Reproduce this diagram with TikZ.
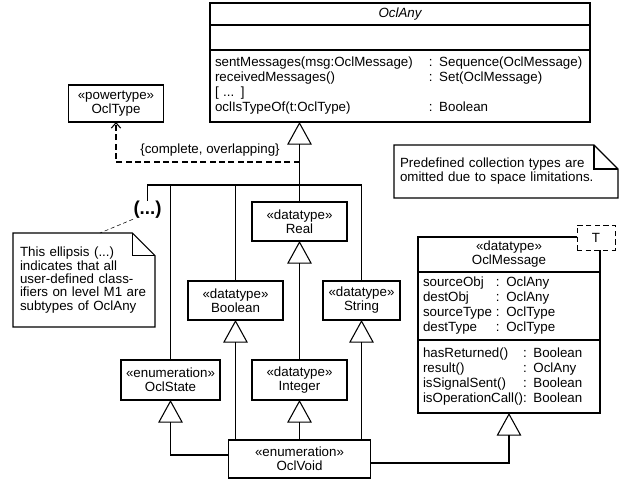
\documentclass[tikz,border=0pt]{standalone}
\usepackage{fontspec}
\setmainfont{Liberation Sans}
\usepackage{tikz}
\usetikzlibrary{positioning}
\usetikzlibrary{arrows.meta}
\newdimen\pix
\pix=0.75pt
\tikzset{%
  block/.style    = {draw, rectangle, fill=white, outer sep=0pt, inner xsep=5\pix,
    inner ysep=2\pix, align=center, font=\fontsize{10}{10.5}\selectfont},
  comp/.style     = {block, align=left, font=\fontsize{10}{11.25}\selectfont}, % Compartment
  tbox/.style     = {draw, dash pattern=on 4pt off 2.5pt, fill=white, thin,
    minimum width=38\pix, minimum height=25\pix}, % Template parameter
  note/.style     = {rectangle, align=left, inner xsep=7\pix, outer sep=0pt}, % Note
  gen/.style      = {-{Triangle[open, length=17pt, width=18.5pt]}}, % Generalization
  dep/.style      = {dash pattern=on 4.5pt off 2.5pt, -{Straight Barb[length=4pt, width=7pt]}},
  link/.style     = {thin, dash pattern=on 3pt off 2pt}
}
\newcommand{\notefold}[2]{%
  \draw (#1.north west) -- ([xshift=-#2]#1.north east) -- ([yshift=-#2]#1.north east)
    -- (#1.south east) -- (#1.south west) -- cycle;
  \draw ([xshift=-#2]#1.north east) |- ([yshift=-#2]#1.north east);
}

\begin{document}
\begin{tikzpicture}[thick, x=0.75pt, y=-0.75pt, font=\fontsize{10}{10.5}\selectfont]
  \useasboundingbox (0,0) rectangle (621,486);

  \draw node at (400,14) [block, minimum width=380\pix, minimum height=22\pix,
    font=\fontsize{10}{10.5}\selectfont\itshape] (any) {OclAny};
  \draw node [block, below=0pt of any, minimum width=380\pix, minimum height=25\pix] (anyattr) {};
  \draw node [comp, below=0pt of anyattr, text width=370\pix, minimum height=72\pix] (anyops)
    {\begin{tabular}{@{}l@{\hspace{12pt}}l@{}}
      sentMessages(msg:OclMessage) & : Sequence(OclMessage)\\
      receivedMessages() & : Set(OclMessage)\\
      {[} ... ] & \\
      oclIsTypeOf(t:OclType) & : Boolean
    \end{tabular}};

  \draw node at (116,103.5) [block, minimum width=95\pix, minimum height=37\pix] (type) {«powertype»\\OclType};
  \draw node at (299.5,221.5) [block, minimum width=95\pix, minimum height=39\pix] (real) {«datatype»\\Real};
  \draw node at (235.5,300.5) [block, minimum width=95\pix, minimum height=39\pix] (bool) {«datatype»\\Boolean};
  \draw node at (361.5,300.5) [block, minimum width=77\pix, minimum height=39\pix] (str) {«datatype»\\String};
  \draw node at (170.5,380) [block, minimum width=95\pix, minimum height=40\pix] (state) {«enumeration»\\OclState};
  \draw node at (299.5,380) [block, minimum width=95\pix, minimum height=40\pix] (integer) {«datatype»\\Integer};
  \draw node at (299.5,459) [block, minimum width=142\pix, minimum height=38\pix] (void) {«enumeration»\\OclVoid};

  \draw node at (509,254.5) [block, minimum width=182\pix, minimum height=35\pix] (msg) {«datatype»\\OclMessage};
  \draw node [comp, below=0pt of msg, text width=172\pix, minimum height=68\pix] (msgattr)
    {\begin{tabular}{@{}l@{\hspace{3pt}}l@{}}
      sourceObj & : OclAny\\
      destObj & : OclAny\\
      sourceType & : OclType\\
      destType & : OclType
    \end{tabular}};
  \draw node [comp, below=0pt of msgattr, text width=172\pix, minimum height=73\pix] (msgops)
    {\begin{tabular}{@{}l@{}l@{}}
      hasReturned() & : Boolean\\
      result() & : OclAny\\
      isSignalSent() & : Boolean\\
      isOperationCall() & : Boolean
    \end{tabular}};
  \draw node at (596,237.5) [tbox] (tparam) {T};

  \draw node at (147.5,210) [inner sep=0pt, font=\fontsize{14}{16}\selectfont\bfseries] (dots) {(...)};
  \draw node at (210,150) (constr) {\{complete, overlapping\}};
  \draw node at (84,280) [note, text width=128\pix, minimum height=94\pix,
    font=\fontsize{10}{10}\selectfont] (ellnote)
    {This ellipsis (...)\\indicates that all\\user-defined class-\\ifiers on level M1 are\\subtypes of OclAny};
  \draw node at (506,171.5) [note, text width=212\pix, inner xsep=6\pix, minimum height=53\pix] (collnote)
    {Predefined collection types are\\omitted due to space limitations.};
  \notefold{ellnote}{17pt}
  \notefold{collnote}{18pt}

  \coordinate (bar) at (299.5,185);
  \coordinate (depstart) at (299.5,162);

  \draw[gen] (real.north) -- (real.north |- anyops.south);
  \draw (dots.north) |- (bar) -| (str.north);
  \draw (state.north) -- (state.north |- bar);
  \draw (bool.north) -- (bool.north |- bar);
  \draw[dep] (depstart) -| (type.south);
  \draw[gen] (integer.north) -- (real.south);
  \draw[gen] (void.north -| bool.south) -- (bool.south);
  \draw[gen] (void.north) -- (integer.south);
  \draw[gen] (void.north -| str.south) -- (str.south);
  \draw[gen] ([yshift=3pt]void.west) -| (state.south);
  \draw[gen] ([yshift=-3pt]void.east) -| (msgops.south);
  \draw[link] (dots.south west) -- ([xshift=12pt]ellnote.north);
  % \draw[link] (collnote.west) -- (any.east);

\end{tikzpicture}
\end{document}
